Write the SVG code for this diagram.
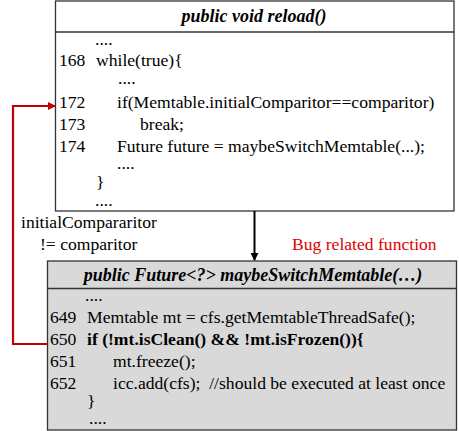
<svg xmlns="http://www.w3.org/2000/svg" width="459" height="431" viewBox="0 0 459 431">
<style>
.t{font-family:"Liberation Serif","Times New Roman",serif;font-size:17.6px;fill:#000}
.h{font-family:"Liberation Serif","Times New Roman",serif;font-size:18px;font-weight:bold;font-style:italic;fill:#000}
.b{font-weight:bold}
.box{stroke:#333;stroke-width:1.3}
</style>
<defs>
<marker id="ab" markerWidth="8" markerHeight="8" refX="7" refY="4" orient="auto" markerUnits="userSpaceOnUse"><path d="M0,0 L8,4 L0,8 z" fill="#000"/></marker>
<marker id="ar" markerWidth="8" markerHeight="8" refX="7" refY="4" orient="auto" markerUnits="userSpaceOnUse"><path d="M0,0 L8,4 L0,8 z" fill="#c00000"/></marker>
</defs>
<g id="reload">
<rect class="box" x="55.5" y="1" width="398.5" height="210" fill="#fff"/>
<line class="box" x1="55.5" y1="32" x2="454" y2="32"/>
<text class="h" x="254" y="22" text-anchor="middle">public void reload()</text>
<text class="t" x="95" y="45">....</text>
<text class="t" x="59" y="66">168</text><text class="t" x="96" y="66">while(true){</text>
<text class="t" x="118" y="84">....</text>
<text class="t" x="59" y="108">172</text><text class="t" x="117" y="108">if(Memtable.initialComparitor==comparitor)</text>
<text class="t" x="59" y="130">173</text><text class="t" x="140" y="130">break;</text>
<text class="t" x="59" y="152">174</text><text class="t" x="117" y="152">Future future = maybeSwitchMemtable(...);</text>
<text class="t" x="117" y="169">....</text>
<text class="t" x="96" y="188">}</text>
<text class="t" x="95" y="206">....</text>
</g>
<g id="maybeSwitch">
<rect class="box" x="47.5" y="261" width="409" height="169" fill="#d9d9d9"/>
<line class="box" x1="47.5" y1="288.5" x2="456.5" y2="288.5"/>
<text class="h" x="253" y="281" text-anchor="middle">public Future&lt;?&gt; maybeSwitchMemtable(…)</text>
<text class="t" x="85" y="301">....</text>
<text class="t" x="50" y="323">649</text><text class="t" x="87" y="323">Memtable mt = cfs.getMemtableThreadSafe();</text>
<text class="t" x="50" y="345">650</text><text class="t b" x="87" y="345">if (!mt.isClean() &amp;&amp; !mt.isFrozen()){</text>
<text class="t" x="50" y="367">651</text><text class="t" x="113" y="367">mt.freeze();</text>
<text class="t" x="50" y="389">652</text><text class="t" x="113" y="389" xml:space="preserve">icc.add(cfs);  //should be executed at least once</text>
<text class="t" x="87" y="407">}</text>
<text class="t" x="89" y="424">....</text>
</g>
<g id="labels">
<text class="t" x="21" y="228">initialCompararitor</text>
<text class="t" x="40" y="250">!= comparitor</text>
<text class="t" x="292" y="250" style="fill:#e00000">Bug related function</text>
</g>
<g id="connectors">
<line x1="254.5" y1="211" x2="254.5" y2="260" stroke="#000" stroke-width="2" marker-end="url(#ab)"/>
<polyline points="47,344 13,344 13,106 55,106" fill="none" stroke="#c00000" stroke-width="2.2" marker-end="url(#ar)"/>
</g>
</svg>
